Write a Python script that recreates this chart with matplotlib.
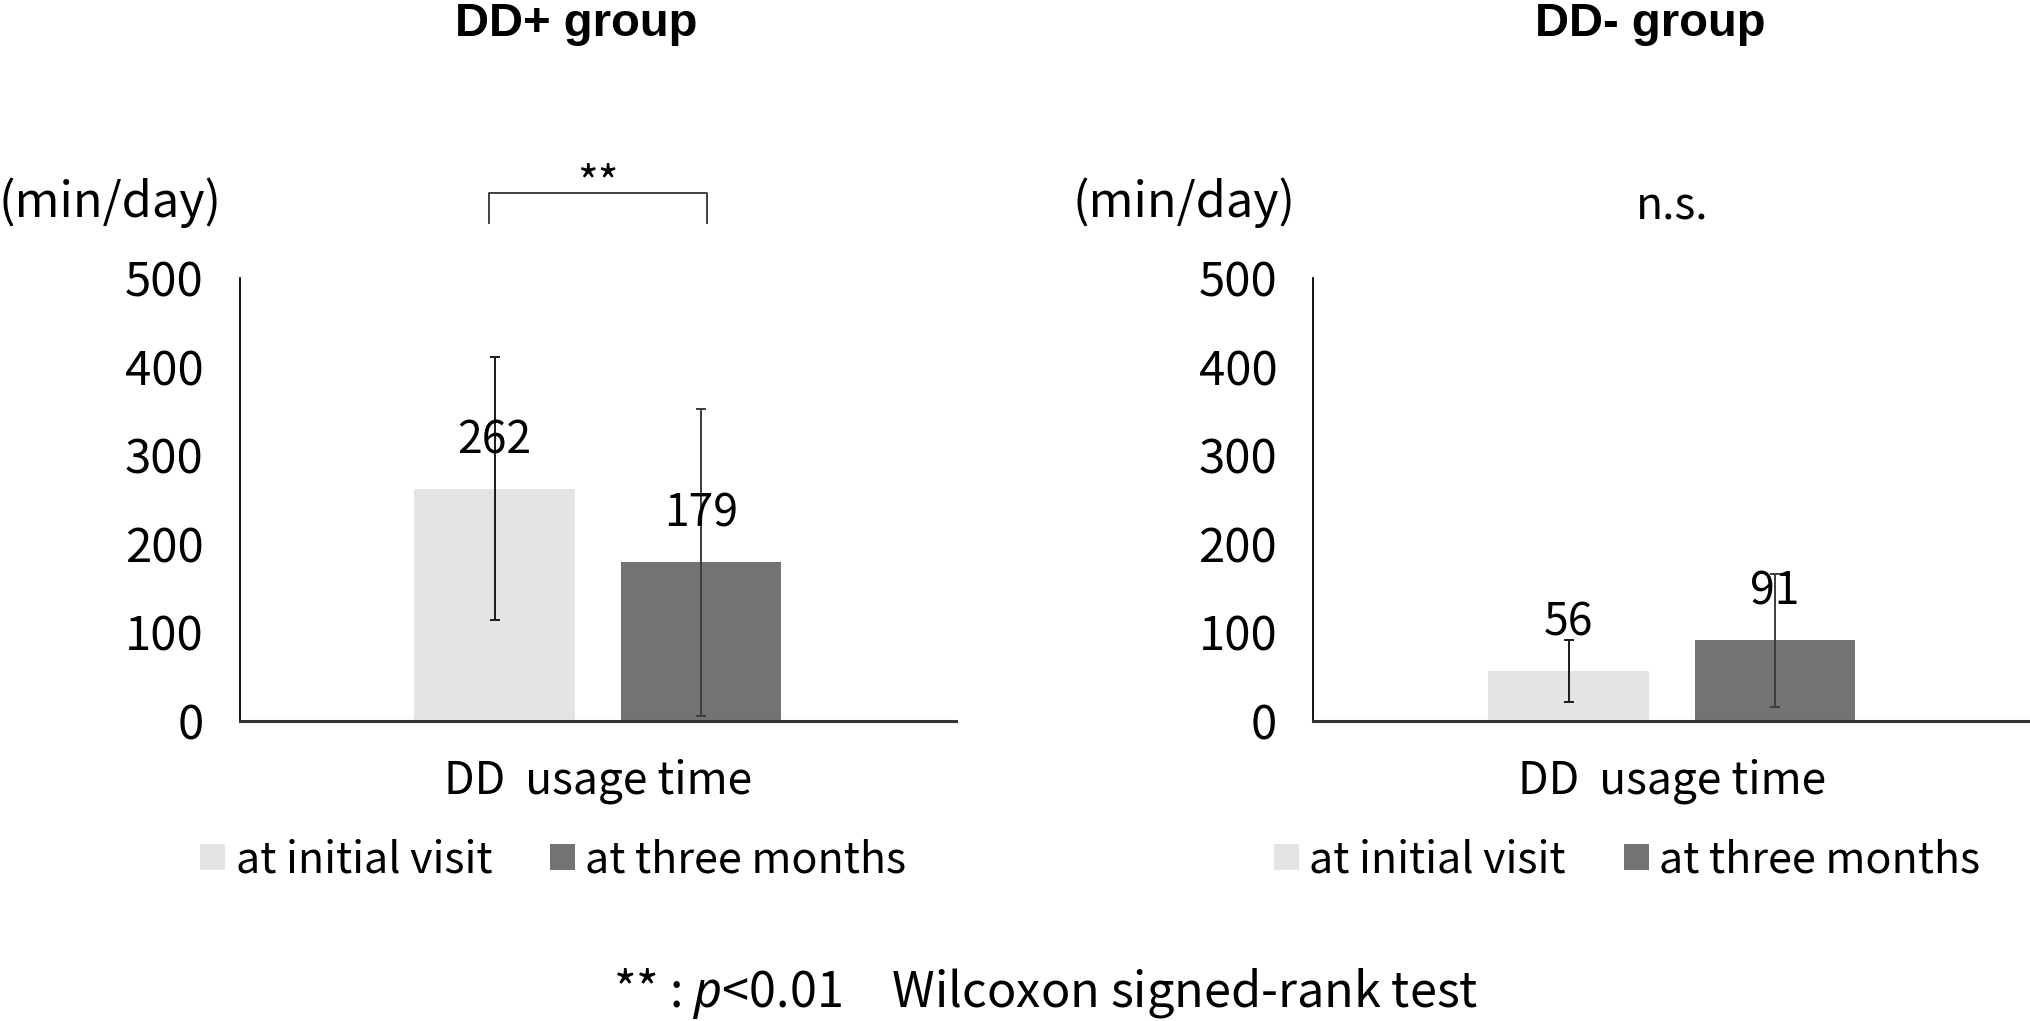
import matplotlib
matplotlib.use("Agg")
import matplotlib.pyplot as plt

# データ
groups = ["DD+ group", "DD- group"]
series = ["at initial visit", "at three months"]
means = {"DD+ group": [262, 179], "DD- group": [56, 91]}
sds = {"DD+ group": [148, 173], "DD- group": [35, 75]}
sig_marks = {"DD+ group": "**", "DD- group": "n.s."}
yticks = [0, 100, 200, 300, 400, 500]
xlabel = "DD  usage time"
unit = "(min/day)"
footnote = "** : $p$<0.01\u3000Wilcoxon signed-rank test"

bar_colors = ["#e4e4e4", "#737373"]
err_colors = ["#1a1a1a", "#3c3c3c"]

plt.rcParams["font.family"] = ["Noto Sans CJK JP", "DejaVu Sans"]
plt.rcParams["mathtext.fontset"] = "custom"
plt.rcParams["mathtext.rm"] = "Noto Sans CJK JP"
plt.rcParams["mathtext.it"] = "Noto Sans:italic"

FS = 32

fig = plt.figure(figsize=(20.30, 10.21), dpi=100)
axes = [fig.add_axes([0.118, 0.294, 0.353, 0.434]),
        fig.add_axes([0.647, 0.294, 0.353, 0.434])]

bw = 0.224
offs = [-0.144, 0.144]

for ax, g in zip(axes, groups):
    bars = []
    for i in range(2):
        b = ax.bar(offs[i], means[g][i], width=bw, color=bar_colors[i],
                   label=series[i], zorder=2)
        bars.append(b)
        ax.errorbar(offs[i], means[g][i], yerr=sds[g][i], fmt="none",
                    ecolor=err_colors[i], elinewidth=1.4, capsize=3.5,
                    capthick=1.4, zorder=3)
        ax.annotate(str(means[g][i]), (offs[i], means[g][i]),
                    xytext=(0, 35), textcoords="offset points",
                    ha="center", va="center", fontsize=FS, zorder=4)

    ax.set_xlim(-0.5, 0.5)
    ax.set_ylim(0, 500)
    ax.set_yticks(yticks)
    ax.set_xticks([])
    ax.tick_params(axis="y", length=0, pad=26, labelsize=34)
    for s in ["top", "right"]:
        ax.spines[s].set_visible(False)
    ax.spines["left"].set_linewidth(1.3)
    ax.spines["bottom"].set_linewidth(2.2)
    ax.spines["bottom"].set_color("#333333")

    ax.text(0.5, -0.135, xlabel, transform=ax.transAxes, ha="center",
            va="center", fontsize=FS)
    ax.text(-0.336, 1.17, unit, transform=ax.transAxes, ha="left",
            va="center", fontsize=35)
    ax.text(0.47, 1.572, g, transform=ax.transAxes, ha="center", va="center",
            fontsize=34, fontweight="bold", family="Liberation Sans")

    # 有意差の表示
    if sig_marks[g] == "**":
        bx0, bx1 = offs[0] - 0.008, offs[1] + 0.008
        ax.plot([bx0, bx0, bx1, bx1], [562, 596, 596, 562], color="#333333",
                lw=1.3, clip_on=False)
        ax.text(0, 604, sig_marks[g], ha="center", va="center", fontsize=FS)
    else:
        ax.text(0, 580, sig_marks[g], ha="center", va="center", fontsize=FS)

    ax.legend(handles=bars, loc="center", bbox_to_anchor=(0.438, -0.315),
              ncol=2, frameon=False, fontsize=31, handlelength=0.57,
              handleheight=0.57, handletextpad=0.25, columnspacing=1.35)

fig.text(0.515, 0.027, footnote, ha="center", va="center", fontsize=35)

fig.savefig("out.png", dpi=100)
